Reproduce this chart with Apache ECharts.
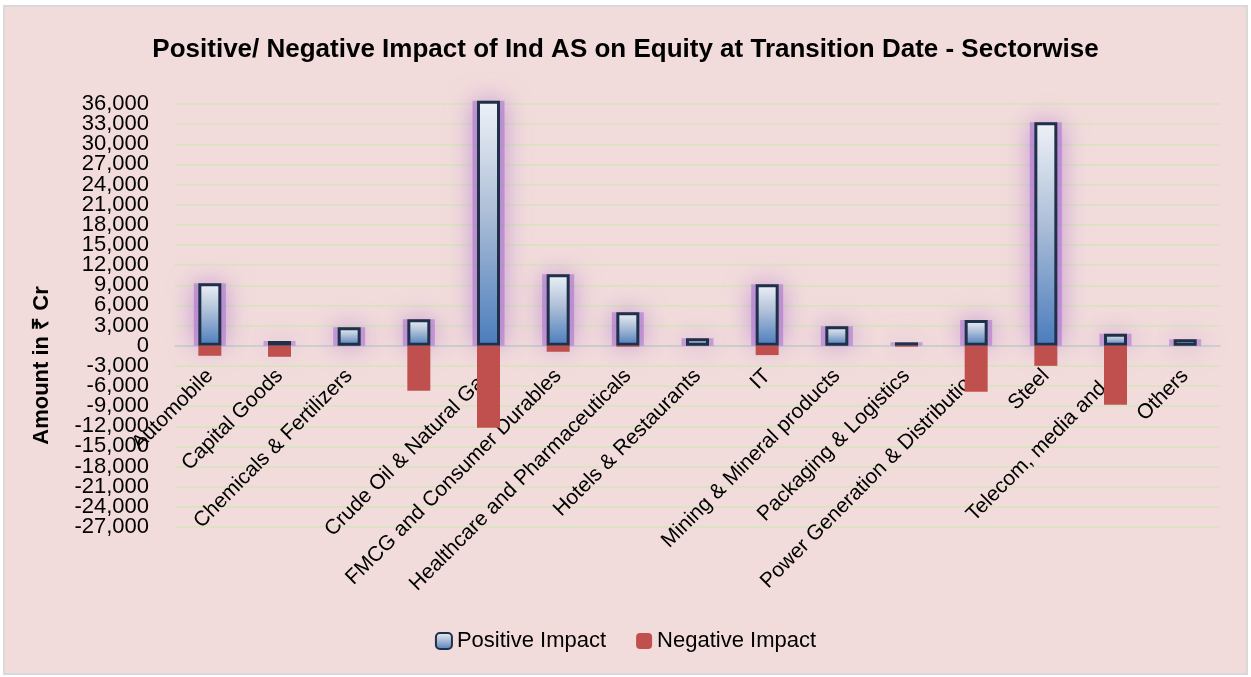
<!DOCTYPE html>
<html lang="en">
<head>
  <meta charset="UTF-8">
  <title>Ind AS impact on equity - sectorwise</title>
  <style>
    html, body { margin: 0; padding: 0; background: #fff; }
    #frame {
      position: absolute; left: 3px; top: 5px;
      width: 1245px; height: 670px;
      box-sizing: border-box;
      background: #f2dcdb;
      border: 2px solid #d9d9d9;
    }
    #chart { position: absolute; left: 0; top: 0; width: 1251px; height: 677px; }
  </style>
</head>
<body>
<div id="frame"></div>
<div id="chart"></div>

<script src="https://cdn.jsdelivr.net/npm/echarts@6/dist/echarts.min.js"></script>
<script>
  // sectors on the x axis (the 4th label is blank in the source chart)
  const sectors = [
    'Automobile', 'Capital Goods', 'Chemicals & Fertilizers', '',
    'Crude Oil & Natural Gas', 'FMCG and Consumer Durables', 'Healthcare and Pharmaceuticals',
    'Hotels & Restaurants', 'IT', 'Mining & Mineral products', 'Packaging & Logistics',
    'Power Generation & Distribution', 'Steel', 'Telecom, media and...', 'Others'
  ];
  // amounts in Rs crore
  const positiveImpact = [9300, 700, 2750, 3950, 36500, 10650, 5000, 1100, 9150, 2900, 500, 3830, 33300, 1800, 950];
  const negativeImpact = [-1500, -1650, 0, -6700, -12200, -900, -150, 0, -1400, 0, -150, -6850, -3000, -8800, 0];
  // value axis ticks
  const yMin = -27000;
  const yMax = 36000;
  const yStep = 3000;

  const font = "'Liberation Sans', Arial, sans-serif";
  const withComma = (v) => String(v).replace(/\B(?=(\d{3})+(?!\d))/g, ',');

  const gridTop = 104, gridBottom = 150, chartH = 677;
  // move the category axis up to the zero line, labels included
  const plotH = chartH - gridTop - gridBottom;
  const zeroShift = -plotH * (0 - yMin) / (yMax - yMin);

  const yLabel = {margin: 26, fontFamily: font, fontSize: 22, color: '#000', formatter: withComma};

  const chart = echarts.init(document.getElementById('chart'));

  chart.setOption({
    animation: false,
    title: {
      text: 'Positive/ Negative Impact of Ind AS on Equity at Transition Date - Sectorwise',
      left: 'center',
      top: 32,
      textStyle: {fontFamily: font, fontSize: 26, fontWeight: 'bold', color: '#000'}
    },
    legend: {
      bottom: 20,
      left: 'center',
      itemGap: 30,
      itemWidth: 16,
      itemHeight: 16,
      textStyle: {fontFamily: font, fontSize: 22, color: '#000'},
      itemStyle: {shadowBlur: 0, shadowColor: 'transparent'},
      data: ['Positive Impact', 'Negative Impact']
    },
    grid: {left: 175, right: 31, top: gridTop, bottom: gridBottom, outerBoundsMode: 'none', containLabel: false},
    xAxis: [
      {
        type: 'category',
        data: sectors,
        position: 'bottom',
        offset: zeroShift,
        axisTick: {show: false},
        axisLine: {onZero: false, lineStyle: {color: '#d0d0d0', width: 2}},
        axisLabel: {interval: 0, rotate: 45, margin: 27, fontFamily: font, fontSize: 21, color: '#000', hideOverlap: false}
      },
      {
        // hidden twin axis so the glow bars get their own width
        type: 'category',
        data: sectors,
        show: false
      }
    ],
    yAxis: [
      {
        type: 'value',
        min: yMin,
        max: yMax,
        interval: yStep,
        name: 'Amount in ₹ Cr',
        nameLocation: 'middle',
        nameGap: 122,
        nameMoveOverlap: false,
        nameTextStyle: {fontFamily: font, fontSize: 22, fontWeight: 'bold', color: '#000', padding: [0, 100, 0, 0]},
        axisLine: {show: false},
        axisTick: {show: false},
        axisLabel: Object.assign({showMinLabel: false, showMaxLabel: false}, yLabel),
        splitLine: {lineStyle: {color: '#d7e4bd', width: 1.5}}
      },
      {
        // second copy of the scale that only writes the two end labels,
        // which the first axis drops because they touch their neighbours
        type: 'value',
        position: 'left',
        min: yMin,
        max: yMax,
        interval: yStep,
        axisLine: {show: false},
        axisTick: {show: false},
        splitLine: {show: false},
        axisLabel: Object.assign({customValues: [yMin, yMax]}, yLabel)
      }
    ],
    series: [
      {
        name: 'glow',
        type: 'bar',
        xAxisIndex: 1,
        data: positiveImpact,
        barWidth: 32,
        clip: false,
        silent: true,
        itemStyle: {
          color: 'rgba(165, 110, 205, 0.55)',
          shadowColor: 'rgba(160, 100, 205, 1)',
          shadowBlur: 24
        }
      },
      {
        name: 'Positive Impact',
        type: 'bar',
        data: positiveImpact,
        barWidth: 23,
        barGap: '-100%',
        clip: false,
        itemStyle: {
          color: new echarts.graphic.LinearGradient(0, 0, 0, 1, [
            {offset: 0, color: '#eef2f8'},
            {offset: 0.45, color: '#aebfd8'},
            {offset: 1, color: '#4a7cbc'}
          ]),
          borderColor: '#1f3048',
          borderWidth: 3
        }
      },
      {
        name: 'Negative Impact',
        type: 'bar',
        data: negativeImpact,
        barWidth: 23,
        barGap: '-100%',
        itemStyle: {color: '#c0504d'}
      }
    ]
  });
</script>
</body>
</html>
